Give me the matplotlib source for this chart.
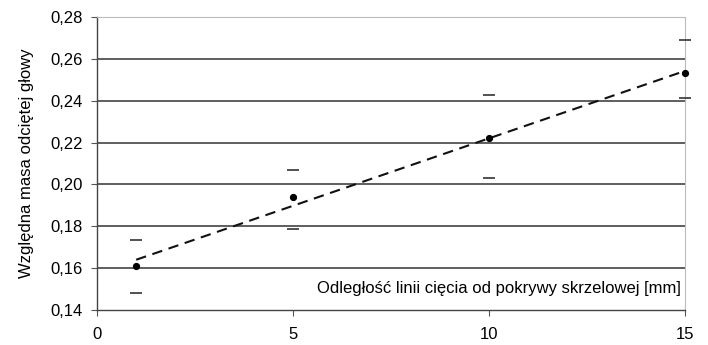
import numpy as np
import matplotlib.pyplot as plt
from matplotlib.ticker import FuncFormatter

plt.rcParams['font.family'] = ['Liberation Sans', 'DejaVu Sans']

# odległość linii cięcia [mm]
distance = [1, 5, 10, 15]
# względna masa odciętej głowy (średnia, granica górna, granica dolna)
mass_mean = [0.161, 0.194, 0.222, 0.253]
mass_upper = [0.1735, 0.207, 0.2425, 0.269]
mass_lower = [0.148, 0.1785, 0.203, 0.2415]

y_ticks = [0.14, 0.16, 0.18, 0.20, 0.22, 0.24, 0.26, 0.28]
x_ticks = [0, 5, 10, 15]

fig = plt.figure(figsize=(7.08, 3.45), dpi=100)
ax = fig.add_axes([0.137, 0.1014, 0.8305, 0.8496])

# siatka pozioma
for yv in y_ticks[1:]:
    ax.axhline(yv, color='#333333', lw=1.1, zorder=1)

# linia trendu (liniowa)
slope, icpt = np.polyfit(distance, mass_mean, 1)
xs = np.array([distance[0], distance[-1]])
ax.plot(xs, slope * xs + icpt, color='#111111', lw=1.5, ls=(0, (5, 3.2)), zorder=3)

# granice (same kreski, bez pionowych linii)
ax.plot(distance, mass_upper, ls='none', marker='_', ms=8, mew=1.2,
        color='#333333', clip_on=False, zorder=3)
ax.plot(distance, mass_lower, ls='none', marker='_', ms=8, mew=1.2,
        color='#333333', clip_on=False, zorder=3)

# średnie
ax.plot(distance, mass_mean, ls='none', marker='o', ms=4.2, color='black',
        clip_on=False, zorder=4)

ax.set_xlim(0, 15)
ax.set_ylim(0.14, 0.28)
ax.set_xticks(x_ticks)
ax.set_yticks(y_ticks)
ax.yaxis.set_major_formatter(FuncFormatter(lambda v, p: f'{v:.2f}'.replace('.', ',')))
ax.tick_params(axis='both', labelsize=12, length=4, color='#555555', pad=6)
ax.tick_params(axis='x', pad=8)

for side in ['left', 'bottom']:
    ax.spines[side].set_color('#444444')
    ax.spines[side].set_linewidth(1.0)
for side in ['top', 'right']:
    ax.spines[side].set_color('#bbbbbb')
    ax.spines[side].set_linewidth(0.8)

ax.set_ylabel('Względna masa odciętej głowy', fontsize=12, labelpad=12)
ax.text(14.9, 0.1505, 'Odległość linii cięcia od pokrywy skrzelowej [mm]',
        ha='right', va='center', fontsize=12,
        bbox=dict(facecolor='white', edgecolor='none', pad=2), zorder=5)

fig.savefig('out.png', dpi=100)
